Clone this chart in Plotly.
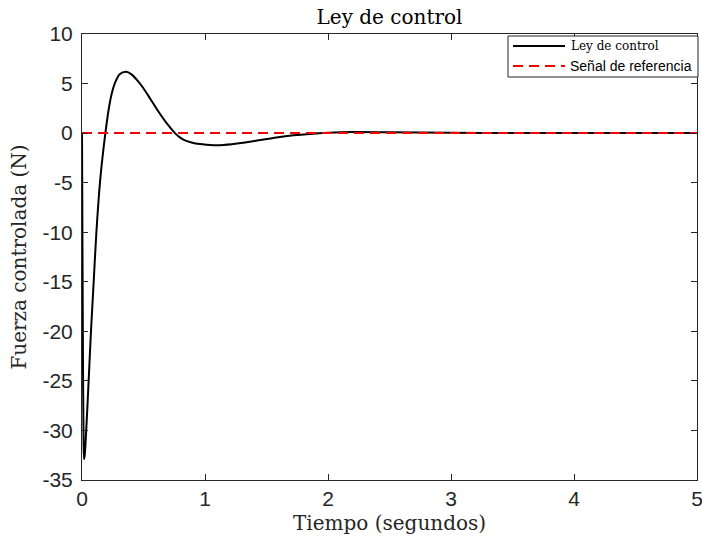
import plotly.graph_objects as go

# Control-law response: time (seconds) and controlled force (N)
tiempo = [0, 0.004, 0.008, 0.012, 0.016, 0.022, 0.033, 0.054, 0.073, 0.095,
          0.117, 0.146, 0.168, 0.19, 0.217, 0.24, 0.266, 0.306, 0.36, 0.40,
          0.455, 0.498, 0.553, 0.62, 0.688, 0.756, 0.79, 0.824, 0.89, 0.96,
          1.07, 1.15, 1.31, 1.45, 1.58, 1.72, 1.85, 2.0, 2.2, 2.5, 3.0, 3.5,
          4.0, 5.0]
fuerza = [0, -12, -23, -30, -32.9, -32.5, -30.3, -25, -20, -15,
          -10, -5, -2.3, 0, 2.4, 3.9, 5.0, 5.95, 6.2, 5.95,
          5.25, 4.55, 3.5, 2.2, 1.0, 0, -0.38, -0.65, -0.94, -1.11,
          -1.22, -1.2, -0.98, -0.7, -0.44, -0.22, -0.08, 0.03, 0.1, 0.08, 0.03, 0.01,
          0.0, 0.0]

# Reference signal (constant zero)
referencia_t = [0, 5]
referencia_v = [0, 0]

x_ticks = [0, 1, 2, 3, 4, 5]
y_ticks = [-35, -30, -25, -20, -15, -10, -5, 0, 5, 10]

serif = "DejaVu Serif"
sans = "Liberation Sans"
ink = "#262626"

W, H = 702, 546
ML, MR, MT, MB = 82, 5, 34, 66
PW, PH = W - ML - MR, H - MT - MB


def px(x):
    """Horizontal pixel position -> paper fraction."""
    return (x - ML) / PW


def py(y):
    """Vertical pixel position -> paper fraction."""
    return (H - MB - y) / PH


fig = go.Figure()
fig.add_trace(go.Scatter(
    x=tiempo, y=fuerza, mode="lines", line_shape="spline",
    line=dict(color="black", width=2, smoothing=0.8),
    name="Ley de control", showlegend=False,
))
fig.add_trace(go.Scatter(
    x=referencia_t, y=referencia_v, mode="lines",
    line=dict(color="#ff0000", width=2, dash="10px,6px"),
    name="Señal de referencia", showlegend=False,
))

# Legend box with line samples
shapes = [
    dict(type="rect", xref="paper", yref="paper",
         x0=px(508), x1=px(698), y0=py(77), y1=py(36),
         line=dict(color=ink, width=1), fillcolor="white", layer="above"),
    dict(type="line", xref="paper", yref="paper",
         x0=px(513), x1=px(565), y0=py(46), y1=py(46),
         line=dict(color="black", width=2), layer="above"),
    dict(type="line", xref="paper", yref="paper",
         x0=px(513), x1=px(565), y0=py(66), y1=py(66),
         line=dict(color="#ff0000", width=2, dash="10px,6px"), layer="above"),
]
annotations = [
    dict(text="Ley de control", xref="paper", yref="paper",
         x=px(569), y=py(46), xanchor="left", yanchor="middle", showarrow=False,
         font=dict(family=serif, size=12, color="black")),
    dict(text="Señal de referencia", xref="paper", yref="paper",
         x=px(568), y=py(66), xanchor="left", yanchor="middle", showarrow=False,
         font=dict(family=sans, size=14, color="black")),
]

fig.update_layout(
    template="none",
    width=W, height=H,
    margin=dict(l=ML, r=MR, t=MT, b=MB, autoexpand=False),
    paper_bgcolor="white", plot_bgcolor="white",
    font=dict(family=sans, size=21, color=ink),
    title=dict(text="Ley de control", x=389.5 / W, xanchor="center",
               y=1 - 17 / H, yanchor="middle",
               font=dict(family=serif, size=20, color="black")),
    shapes=shapes, annotations=annotations,
    showlegend=False,
)

axis_common = dict(
    showline=True, linecolor=ink, linewidth=1, mirror="ticks",
    ticks="inside", ticklen=6, tickcolor=ink, tickwidth=1,
    showgrid=False, zeroline=False, automargin=False,
    ticklabeloverflow="allow",
    tickfont=dict(family=sans, size=21, color=ink),
)
fig.update_xaxes(range=[0, 5], tickvals=x_ticks, ticktext=[str(v) for v in x_ticks],
                 title=dict(text="Tiempo (segundos)", standoff=6,
                            font=dict(family=serif, size=20, color=ink)),
                 **axis_common)
fig.update_yaxes(range=[-35, 10], tickvals=y_ticks, ticktext=[str(v) for v in y_ticks],
                 ticklabelstandoff=4,
                 title=dict(text="Fuerza controlada (N)", standoff=10,
                            font=dict(family=serif, size=20, color=ink)),
                 **axis_common)

fig.write_html("out.html")
